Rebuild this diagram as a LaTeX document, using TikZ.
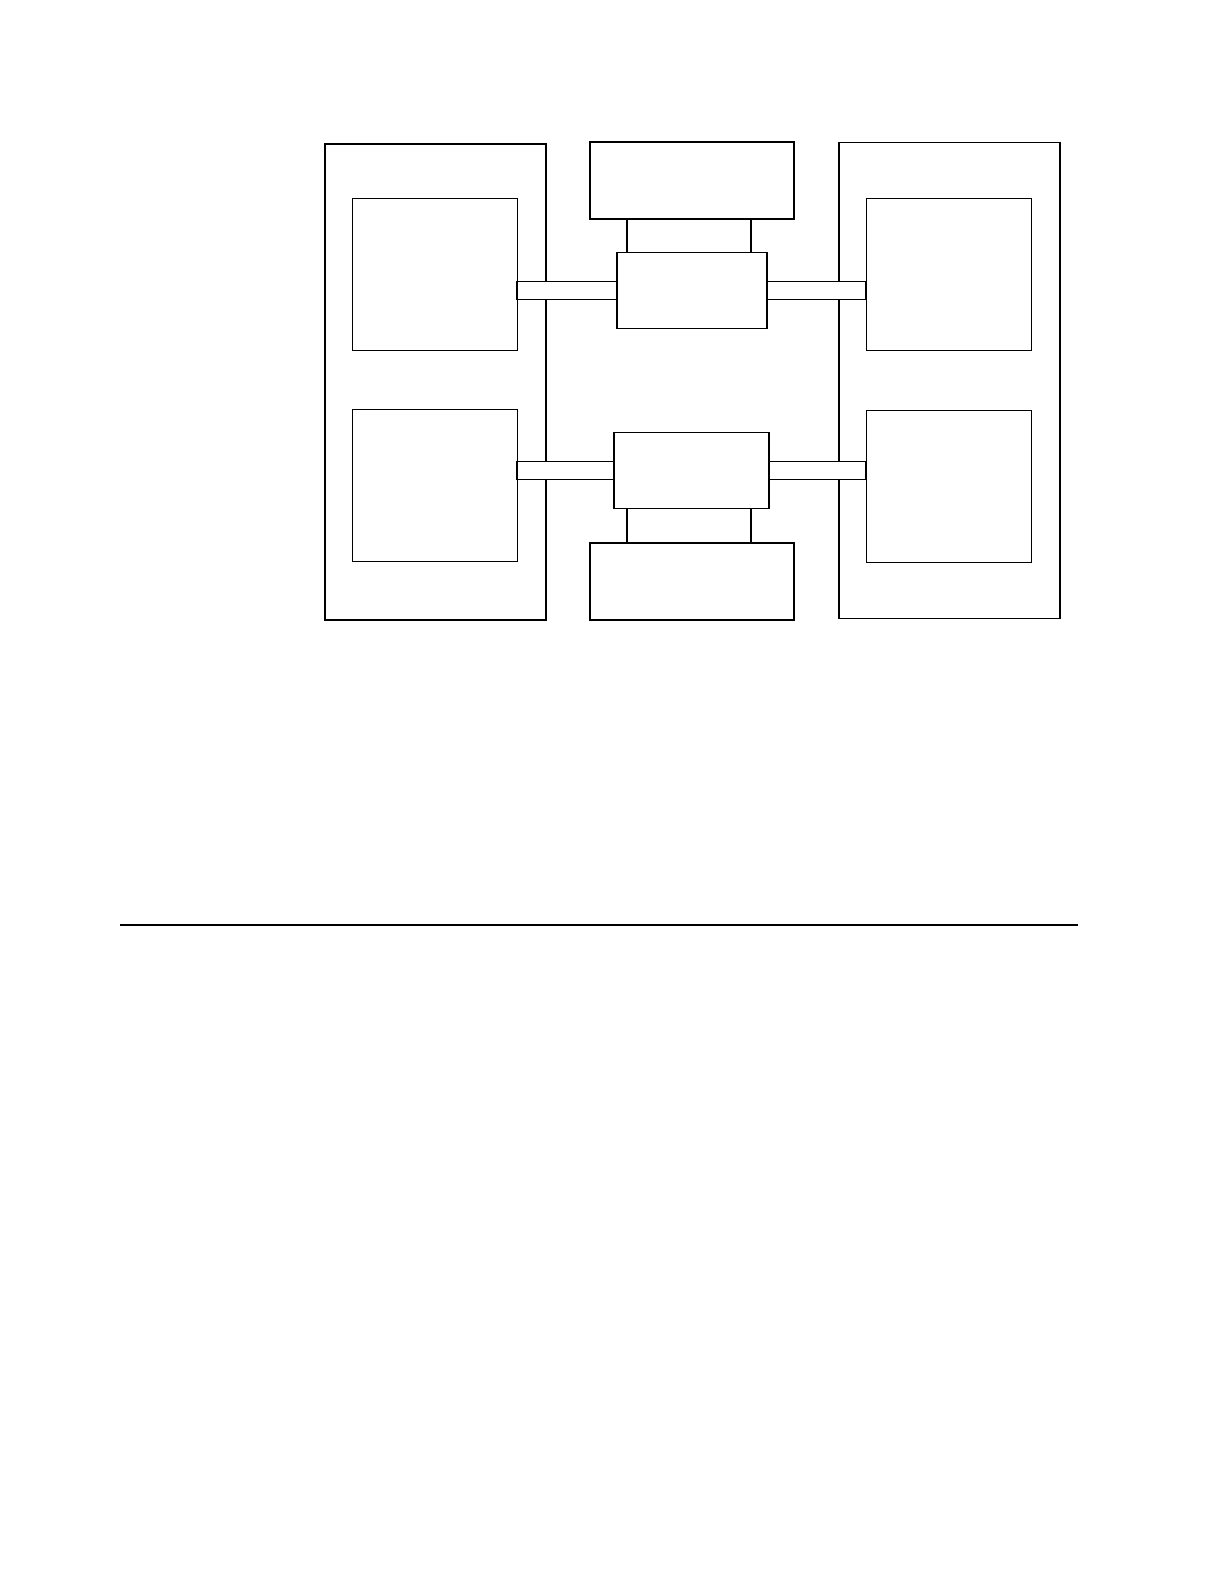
\documentclass[tikz,border=0pt]{standalone}
\usetikzlibrary{positioning}

\begin{document}
\begin{tikzpicture}[x=0.5pt,y=-0.5pt,
				box/.style={draw,rectangle,outer sep=0pt,inner sep=0pt,line width=0.5pt},
				frame/.style={box,line width=0.7pt,minimum width=110.5pt,minimum height=238pt},
				card/.style={box,minimum width=82.5pt,minimum height=76pt},
				unit/.style={box,line width=0.65pt,minimum width=102pt,minimum height=38.5pt},
				hub/.style={box,line width=0.7pt,minimum height=38pt},
				band/.style={draw,fill=white,line width=0.6pt},
				link/.style={line width=0.6pt}]
				\useasboundingbox (0,0) rectangle (1224,1584);
				\node[frame] (LF) at (435.5,382)   {};
				\node[frame] (RF) at (949.5,380.5) {};
				\node[card]  (LT) at (434.5,274)   {};
				\node[card]  (LB) at (434.5,485.5) {};
				\node[card]  (RT) at (948.5,274)   {};
				\node[card]  (RB) at (948.5,486)   {};
				\node[unit]  (TU) at (692,180.5)   {};
				\node[unit]  (BU) at (692,581.5)   {};
				\node[hub,minimum width=75pt]   (HU) at (692,290.5)   {};
				\node[hub,minimum width=77.5pt] (HL) at (691.5,470.5) {};

				\draw[band] ([yshift=4.4pt]HU.west -| LT.east) rectangle ([yshift=-4.4pt]HU.west);
				\draw[band] ([yshift=4.4pt]HU.east) rectangle ([yshift=-4.4pt]HU.east -| RT.west);
				\draw[band] ([yshift=4.4pt]HL.west -| LB.east) rectangle ([yshift=-4.4pt]HL.west);
				\draw[band] ([yshift=4.4pt]HL.east) rectangle ([yshift=-4.4pt]HL.east -| RB.west);

				\coordinate (TL) at ([xshift=18.5pt]TU.south west);
				\coordinate (TR) at ([xshift=-21.5pt]TU.south east);
				\coordinate (BL) at ([xshift=18.5pt]BU.north west);
				\coordinate (BR) at ([xshift=-21.5pt]BU.north east);
				\draw[link] (TL) -- (TL |- HU.north) (TR) -- (TR |- HU.north);
				\draw[link] (BL) -- (BL |- HL.south) (BR) -- (BR |- HL.south);

				\coordinate (RuleA) at (120,925);
				\coordinate (RuleB) at (1078,925);
				\draw[line width=0.6pt] (RuleA) -- (RuleB);
\end{tikzpicture}
\end{document}
